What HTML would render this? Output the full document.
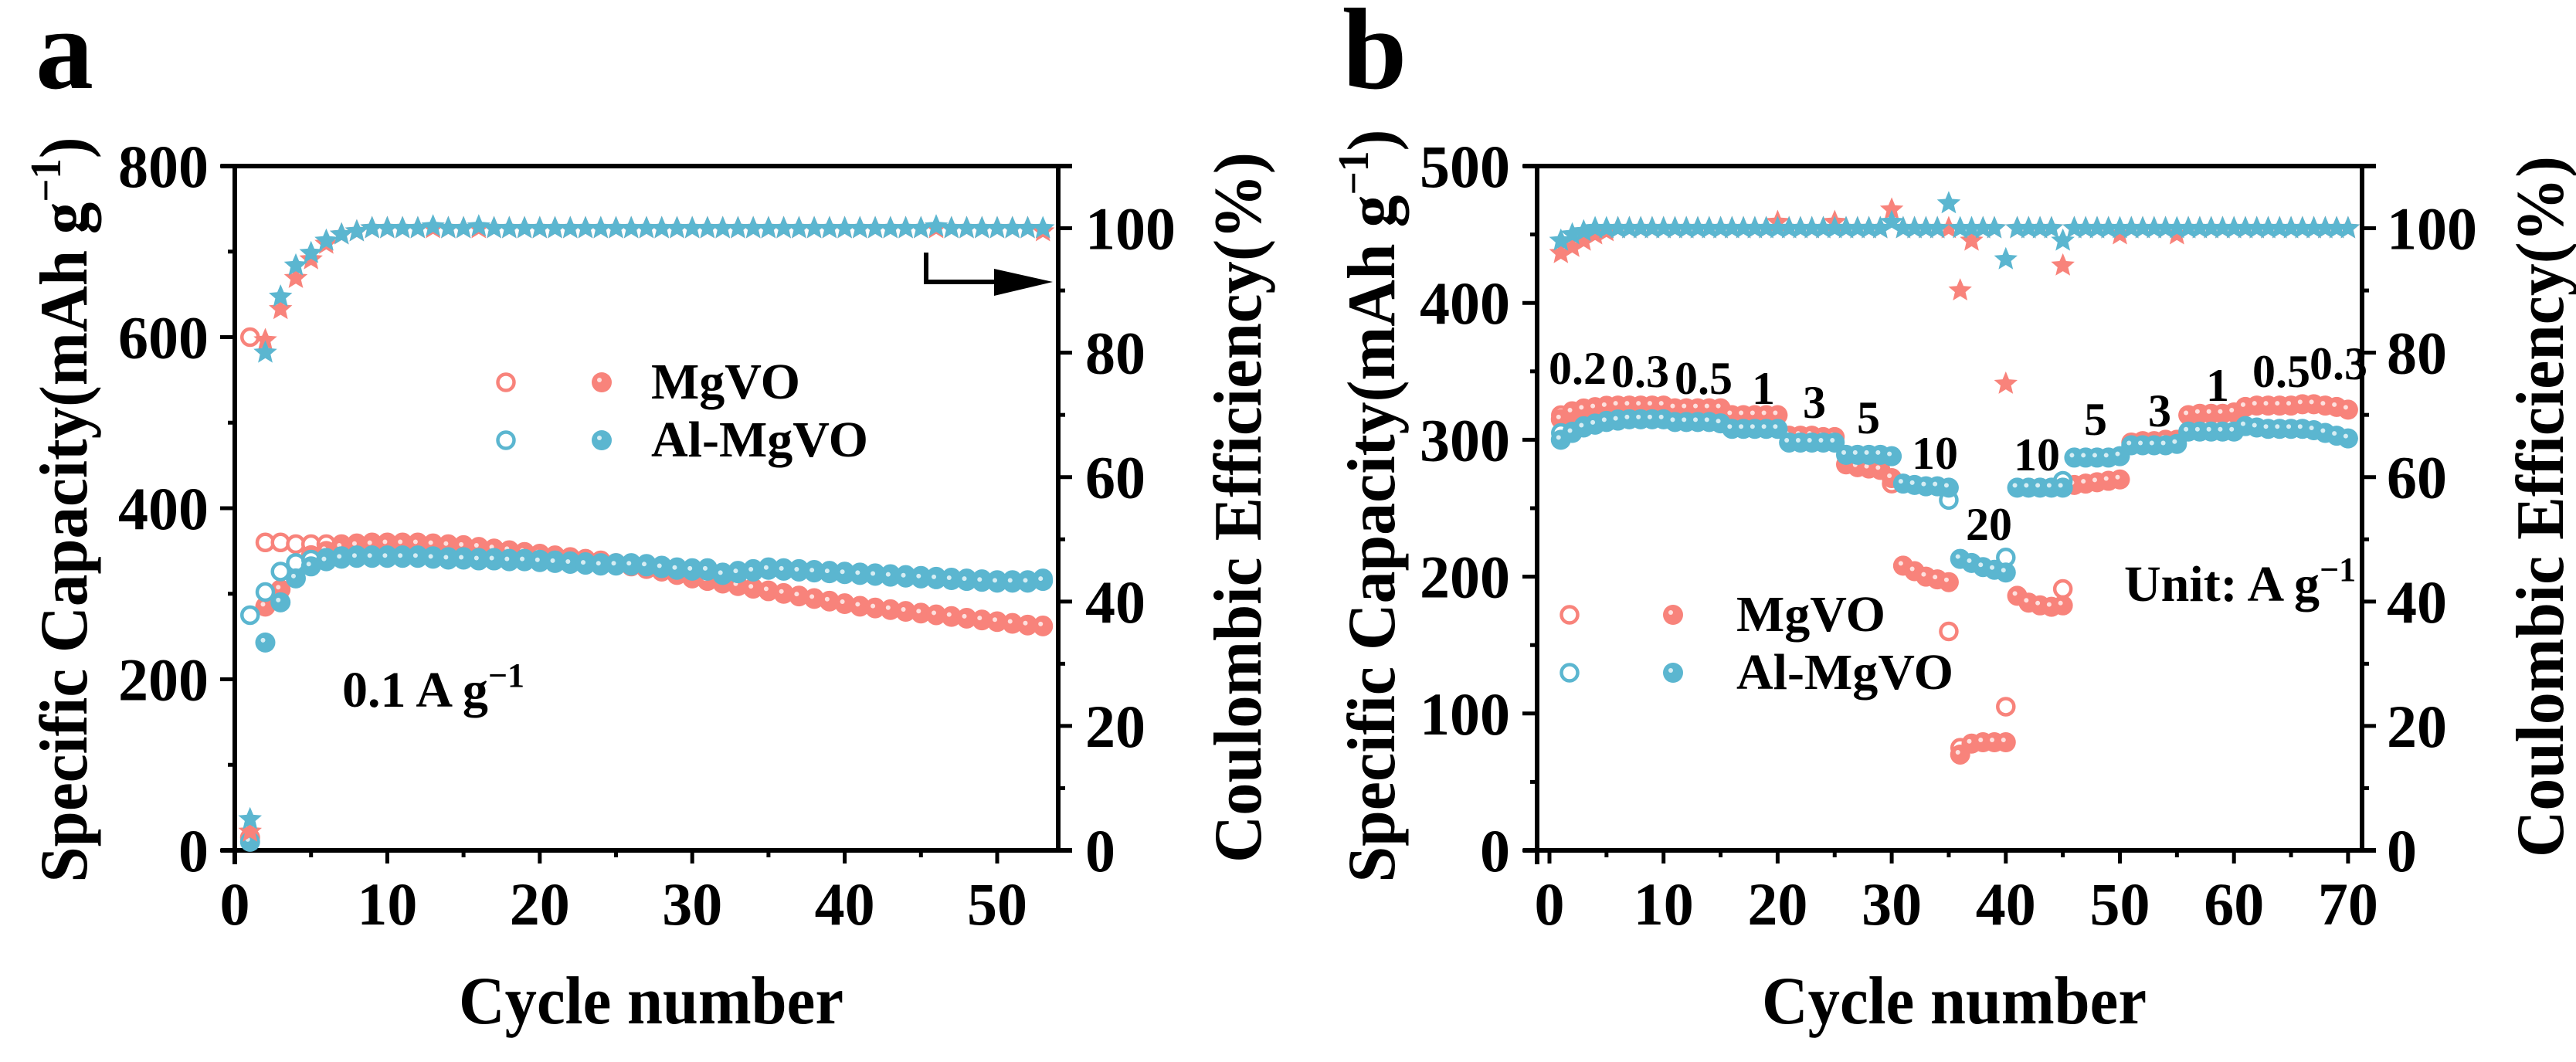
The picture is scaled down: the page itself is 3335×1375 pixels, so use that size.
<!DOCTYPE html>
<html><head><meta charset="utf-8"><style>
html,body{margin:0;padding:0;background:#fff;}
svg{display:block;font-family:"Liberation Serif",serif;font-weight:bold;}
</style></head><body>
<svg id="fig" width="3335" height="1375" viewBox="0 0 3335 1375" xmlns="http://www.w3.org/2000/svg">
<g id="pa"></g>
<g id="pb"></g>
</svg>
<script>
// ---- Panel a data (cycles 1..53) ----
const aCycles = Array.from({length:53},(_,i)=>i+1);
const aMgDis = [15,285,305,330,345,350,354,356,357,358,358,358,357,356,355,354,352,350,348,346,344,342,340,338,335,332,329,326,322,318,315,312,309,306,303,300,297,294,291,288,285,283,281,279,277,275,273,271,269,267,265,263,262];
const aMgChg = [600,360,360,358,358,358,358,359,360,360,360,360,359,358,357,355,353,351,349,347,345,343,341,339,336,333,330,327,323,319,316,313,310,307,304,301,298,295,292,289,286,284,282,280,278,276,274,272,270,268,266,264,263];
const aAlDis = [10,243,290,318,332,338,341,342,342,342,342,342,341,340,340,339,339,338,338,337,336,335,334,333,333,333,332,330,328,327,327,322,324,326,328,327,326,325,324,323,322,321,320,319,318,317,316,315,314,313,313,313,315];
const aAlChg = [275,302,326,336,340,342,344,345,345,345,345,345,344,343,343,342,342,341,341,340,339,338,337,336,336,336,335,333,331,330,330,325,327,329,331,330,329,328,327,326,325,324,323,322,321,320,319,318,317,316,316,316,318];
const aMgCE = [3,82,87,92,95,97.5,99,99.5,100,100,100,100,100,100,100,100,100,100,100,100,100,100,100,100,100,100,100,100,100,100,100,100,100,100,100,100,100,100,100,100,100,100,100,100,100,100,100,100,100,100,100,100,99.5];
const aAlCE = [5,80,89,94,96,98,99,99.5,100,100,100,100,100.3,100,100,100.3,100,100,100,100,100,100,100,100,100,100,100,100,100,100,100,100,100,100,100,100,100,100,100,100,100,100,100,100,100,100.3,100,100,100,100,100,100,100];
const aXTicks = [0,10,20,30,40,50];
const aYTicks = [0,200,400,600,800];
const aY2Ticks = [0,20,40,60,80,100];

// ---- Panel b data (cycles 1..70) ----
const bCycles = Array.from({length:70},(_,i)=>i+1);
const bMgDis = [315,320,322,323,324, 325,325,325,325,325, 323,323,323,323,323, 318,318,318,318,318, 303,303,303,302,302, 282,280,279,278,272, 208,204,200,198,196, 70,78,79,79,79, 186,181,179,178,179, 267,268,269,270,271, 298,299,299,300,300, 318,319,319,319,320, 324,325,325,325,325, 326,326,325,324,322];
const bMgChg = [318,321,323,324,325, 325,325,325,325,325, 323,323,323,323,323, 318,318,318,318,318, 303,303,303,302,302, 282,280,279,278,268, 208,204,200,198,160, 75,78,79,79,105, 186,181,179,178,191, 267,268,269,270,271, 298,299,299,300,300, 318,319,319,319,320, 324,325,325,325,325, 326,326,325,324,322];
const bAlDis = [300,305,309,311,313, 314,315,315,315,315, 313,313,313,313,312, 308,308,308,308,308, 298,298,298,298,298, 289,289,289,289,288, 268,267,266,266,265, 213,210,207,205,203, 265,265,265,265,265, 287,287,287,287,288, 296,296,296,296,297, 306,306,306,306,306, 310,309,308,308,308, 308,307,305,303,301];
const bAlChg = [305,306,310,312,314, 315,315,315,315,315, 313,313,313,313,312, 308,308,308,308,308, 298,298,298,298,298, 289,289,289,289,288, 268,267,266,266,256, 213,210,207,205,214, 265,265,265,265,270, 287,287,287,287,288, 296,296,296,296,297, 306,306,306,306,306, 310,309,308,308,308, 308,307,305,303,301];
const bMgCE = [96,97,98,99,99.5, 100,100,100,100,100, 100,100,100,100,100, 100,100,100,100,101, 100,100,100,100,101, 100,100,100,100,103, 100,100,100,100,100, 90,98,100,100,75, 100,100,100,100,94, 100,100,100,100,99, 100,100,100,100,99, 100,100,100,100,100, 100,100,100,100,100, 100,100,100,100,100];
const bAlCE = [98,99,99.5,100,100, 100,100,100,100,100, 100,100,100,100,100, 100,100,100,100,100, 100,100,100,100,100, 100,100,100,100,101, 100,100,100,100,104, 100,100,100,100,95, 100,100,100,100,98, 100,100,100,100,100, 100,100,100,100,100, 100,100,100,100,100, 100,100,100,100,100, 100,100,100,100,100];
const bXTicks = [0,10,20,30,40,50,60,70];
const bYTicks = [0,100,200,300,400,500];
const bY2Ticks = [0,20,40,60,80,100];
const bRateLabels = ["0.2","0.3","0.5","1","3","5","10","20","10","5","3","1","0.5","0.3"];
const bRateX = [2005,2086,2168,2268,2334,2404,2475,2545,2607,2698,2781,2856,2916,2990];
const bRateY = [497,501,510,523,541,561,607,699,609,563,552,519,501,491];

const RED = "#F8837B", BLUE = "#5BB6D0";
const NS = "http://www.w3.org/2000/svg";
function mk(parent, tag, attrs, text){
  const e = document.createElementNS(NS, tag);
  for (const k in attrs) e.setAttribute(k, attrs[k]);
  if (text !== undefined) e.textContent = text;
  parent.appendChild(e);
  return e;
}
function starPath(cx, cy, R){
  const r = R*0.45; let d = "";
  for (let i=0;i<10;i++){
    const ang = -Math.PI/2 + i*Math.PI/5;
    const rr = i%2===0 ? R : r;
    d += (i===0?"M":"L") + (cx+rr*Math.cos(ang)).toFixed(1) + "," + (cy+rr*Math.sin(ang)).toFixed(1);
  }
  return d + "Z";
}
function openCircle(g, x, y, color, name){
  const c = mk(g, "circle", {cx:x, cy:y, r:10.5, fill:"#fff", stroke:color, "stroke-width":4.5});
  
  
}
function fillCircle(g, x, y, color, name){
  const c = mk(g, "circle", {cx:x, cy:y, r:13, fill:color});
  
  
  mk(g, "circle", {cx:x-3, cy:y-3, r:3, fill:"#fff", opacity:0.75});
}
function star(g, x, y, color, name){
  const s = mk(g, "path", {d:starPath(x, y, 16), fill:color});
  
  
}

function drawPanel(g, cfg){
  const {L, R, T, B, x0, xs, yMax, y2Max} = cfg;
  const X = v => x0 + v*xs;
  const Y = v => B - v/yMax*(B-T);
  const Y2 = v => B - v/y2Max*(B-T);
  const ax = mk(g, "g", {});
  
  
  // frame
  mk(ax, "line", {x1:L-18, y1:B, x2:R+18, y2:B, stroke:"#000", "stroke-width":6});
  mk(ax, "line", {x1:L-18, y1:T, x2:R+18, y2:T, stroke:"#000", "stroke-width":6});
  mk(ax, "line", {x1:L, y1:T, x2:L, y2:B+18, stroke:"#000", "stroke-width":6});
  mk(ax, "line", {x1:R, y1:T, x2:R, y2:B, stroke:"#000", "stroke-width":6});
  // x ticks
  cfg.xTicks.forEach((v,i)=>{
    const x = X(v);
    mk(ax, "line", {x1:x, y1:B, x2:x, y2:B+17, stroke:"#000", "stroke-width":5});
    if (i < cfg.xTicks.length-1 || X(v+5) < R) {
      const xm = X(v+5);
      if (xm < R) mk(ax, "line", {x1:xm, y1:B, x2:xm, y2:B+9, stroke:"#000", "stroke-width":5});
    }
    const t = mk(ax, "text", {x:x, y:1197, "font-size":78, "text-anchor":"middle"}, String(v));
    
    
  });
  // left y ticks
  cfg.yTicks.forEach((v,i)=>{
    const y = Y(v);
    mk(ax, "line", {x1:L-19, y1:y, x2:L, y2:y, stroke:"#000", "stroke-width":5});
    if (i < cfg.yTicks.length-1){
      const ym = Y(v + (cfg.yTicks[1]-cfg.yTicks[0])/2);
      mk(ax, "line", {x1:L-9, y1:ym, x2:L, y2:ym, stroke:"#000", "stroke-width":5});
    }
    const t = mk(ax, "text", {x:cfg.yLabRight, y:y+27, "font-size":78, "text-anchor":"end"}, String(v));
    
    
  });
  // right y ticks
  cfg.y2Ticks.forEach((v,i)=>{
    const y = Y2(v);
    mk(ax, "line", {x1:R, y1:y, x2:R+18, y2:y, stroke:"#000", "stroke-width":5});
    const ym = Y2(v+10);
    if (ym > T) mk(ax, "line", {x1:R, y1:ym, x2:R+9, y2:ym, stroke:"#000", "stroke-width":5});
    const t = mk(ax, "text", {x:cfg.y2LabLeft, y:y+27, "font-size":78, "text-anchor":"start"}, String(v));
    
    
  });
  // titles
  const xt = mk(g, "text", {x:cfg.xTitleX, y:1325, "font-size":88, "text-anchor":"middle", textLength:498, lengthAdjust:"spacingAndGlyphs"}, "Cycle number");
  
  
  const yt = mk(g, "text", {transform:`translate(${cfg.yTitleX},${cfg.yTitleC}) rotate(-90)`, "font-size":88, "text-anchor":"middle", textLength:cfg.yTitleLen, lengthAdjust:"spacingAndGlyphs"});
  
  
  mk(yt, "tspan", {}, "Specific Capacity(mAh g");
  mk(yt, "tspan", {dy:-34, "font-size":56}, "−1");
  mk(yt, "tspan", {dy:34}, ")");
  const y2t = mk(g, "text", {transform:`translate(${cfg.y2TitleX},${cfg.y2TitleC}) rotate(-90)`, "font-size":88, "text-anchor":"middle", textLength:cfg.y2TitleLen, lengthAdjust:"spacingAndGlyphs"}, "Coulombic Efficiency(%)");
  
  
  const letter = mk(g, "text", {x:cfg.letterX, y:114, "font-size":150}, cfg.letter);
  
  

  // series
  const sg = mk(g, "g", {});
  
  
  cfg.cycles.forEach((c,i)=> openCircle(sg, X(c), Y(cfg.mgChg[i]), RED, 'mgvo-charge-point'));
  cfg.cycles.forEach((c,i)=> fillCircle(sg, X(c), Y(cfg.mgDis[i]), RED, 'mgvo-discharge-point'));
  cfg.cycles.forEach((c,i)=> openCircle(sg, X(c), Y(cfg.alChg[i]), BLUE, 'al-mgvo-charge-point'));
  cfg.cycles.forEach((c,i)=> fillCircle(sg, X(c), Y(cfg.alDis[i]), BLUE, 'al-mgvo-discharge-point'));
  cfg.cycles.forEach((c,i)=> star(sg, X(c), Y2(cfg.mgCE[i]), RED, 'mgvo-ce-point'));
  cfg.cycles.forEach((c,i)=> star(sg, X(c), Y2(cfg.alCE[i]), BLUE, 'al-mgvo-ce-point'));

  // legend
  const lg = mk(g, "g", {});
  
  
  const [lx1, lx2, tx, ly1, ly2] = cfg.legend;
  openCircle(lg, lx1, ly1, RED, 'legend-mgvo-open');
  fillCircle(lg, lx2, ly1, RED, 'legend-mgvo-filled');
  openCircle(lg, lx1, ly2, BLUE, 'legend-al-mgvo-open');
  fillCircle(lg, lx2, ly2, BLUE, 'legend-al-mgvo-filled');
  const l1 = mk(lg, "text", {x:tx, y:ly1+21, "font-size":66}, "MgVO");
  
  
  const l2 = mk(lg, "text", {x:tx, y:ly2+21, "font-size":66}, "Al-MgVO");
  
  
}

const pa = document.getElementById("pa");
drawPanel(pa, {L:304, R:1370, T:215, B:1101, x0:304, xs:19.74, yMax:800, y2Max:110,
  xTicks:aXTicks, yTicks:aYTicks, y2Ticks:aY2Ticks, yLabRight:270, y2LabLeft:1405,
  xTitleX:843, yTitleX:112, yTitleC:660, yTitleLen:965, y2TitleX:1632, y2TitleC:657, y2TitleLen:920,
  letter:"a", letterX:46,
  cycles:aCycles, mgDis:aMgDis, mgChg:aMgChg, alDis:aAlDis, alChg:aAlChg, mgCE:aMgCE, alCE:aAlCE,
  legend:[655, 779, 843, 495, 570]});
const pb = document.getElementById("pb");
drawPanel(pb, {L:1990, R:3058, T:215, B:1101, x0:2006, xs:14.77, yMax:500, y2Max:110,
  xTicks:bXTicks, yTicks:bYTicks, y2Ticks:bY2Ticks, yLabRight:1955, y2LabLeft:3090,
  xTitleX:2530, yTitleX:1805, yTitleC:655, yTitleLen:975, y2TitleX:3318, y2TitleC:656, y2TitleLen:908,
  letter:"b", letterX:1738,
  cycles:bCycles, mgDis:bMgDis, mgChg:bMgChg, alDis:bAlDis, alChg:bAlChg, mgCE:bMgCE, alCE:bAlCE,
  legend:[2032, 2166, 2248, 796, 871]});

// panel a annotations
const cur = mk(pa, "text", {x:443, y:915, "font-size":66});


mk(cur, "tspan", {}, "0.1 A g");
mk(cur, "tspan", {dy:-26, "font-size":44}, "−1");
const arrow = mk(pa, "g", {});


mk(arrow, "polyline", {points:"1199,327 1199,365 1290,365", fill:"none", stroke:"#000", "stroke-width":6});
mk(arrow, "polygon", {points:"1287,348 1363,365 1287,383", fill:"#000"});

// panel b annotations
bRateLabels.forEach((s,i)=>{
  const t = mk(pb, "text", {x:bRateX[i], y:bRateY[i], "font-size":60}, s);
  
  
});
const unit = mk(pb, "text", {x:2750, y:778, "font-size":66});


mk(unit, "tspan", {}, "Unit: A g");
mk(unit, "tspan", {dy:-26, "font-size":44}, "−1");
</script>
</body></html>
